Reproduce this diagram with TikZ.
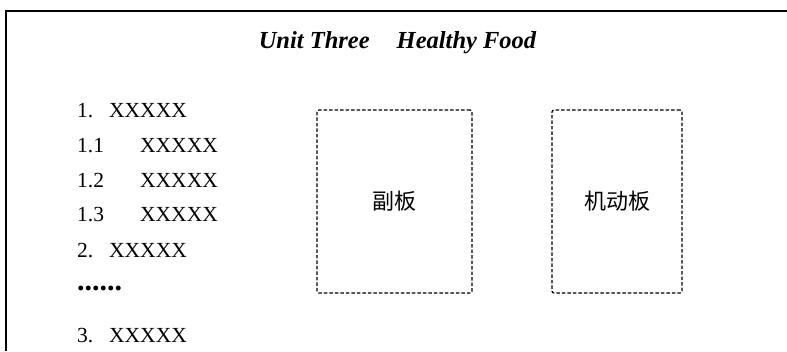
\documentclass[tikz,border=0pt]{standalone}
\usepackage{fontspec}
\setmainfont{Liberation Serif}
\newfontfamily\cjkfont{Noto Sans CJK SC}
\tikzset{
  panel/.style={draw, dash pattern=on 3.5pt off 2pt, rounded corners=2pt, line width=1.2pt,
    inner sep=0pt, font=\fontsize{22}{22}\selectfont\cjkfont},
  item/.style={anchor=base west, inner sep=0pt, font=\fontsize{21.5}{21.5}\selectfont}
}
\begin{document}
\begin{tikzpicture}[x=1pt,y=-1pt]
  \useasboundingbox (0,0) rectangle (787,351);
  \draw[line width=1.5pt] (787,11) -- (6,11) -- (6,351);
  \node[anchor=base, inner sep=0pt, font=\fontsize{24.5}{24.5}\selectfont\bfseries\itshape]
    (title) at (397.5,48) {Unit Three\hspace{27pt}Healthy Food};
  \draw
    (77,117) node[item] (1){\makebox[32pt][l]{1.}XXXXX}
    (77,152) node[item] (1-1){\makebox[63pt][l]{1.1}XXXXX}
    (77,187) node[item] (1-2){\makebox[63pt][l]{1.2}XXXXX}
    (77,221) node[item] (1-3){\makebox[63pt][l]{1.3}XXXXX}
    (77,257) node[item] (2){\makebox[32pt][l]{2.}XXXXX}
    (77,290) node[item, font=\fontsize{30}{30}\selectfont\bfseries] (more){......}
    (77,342) node[item] (3){\makebox[32pt][l]{3.}XXXXX};
  \begin{scope}[every node/.style=panel]
    \node[minimum width=155pt, minimum height=183pt] (sub) at (394.5,201.5) {副板};
    \node[minimum width=130pt, minimum height=183pt] (spare) at (617,201.5) {机动板};
  \end{scope}
\end{tikzpicture}
\end{document}
